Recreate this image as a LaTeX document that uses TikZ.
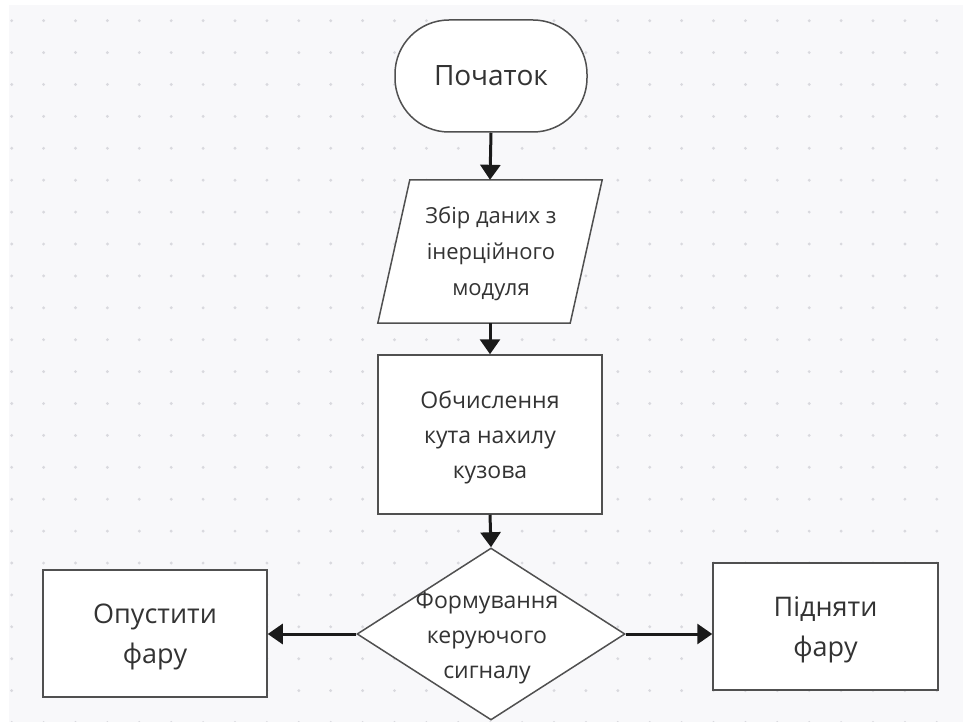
\documentclass[tikz,border=0pt]{standalone}
\usepackage{fontspec}
\setmainfont{Open Sans}
\usetikzlibrary{arrows.meta,shapes.geometric,calc}
\definecolor{bgc}{HTML}{F8F8FA}
\definecolor{dotc}{HTML}{D9D9DE}
\definecolor{edgec}{HTML}{505050}
\definecolor{txtc}{HTML}{333333}
\definecolor{arrc}{HTML}{1A1A1A}
\begin{document}
\begin{tikzpicture}[x=1pt,y=-1pt,
  shapebox/.style={draw=edgec,line width=1.5pt,fill=white},
  txt/.style={text=txtc,align=center,inner sep=0pt},
  flow/.style={draw=arrc,line width=3pt,-{Triangle[length=15pt,width=20pt]}}]
\useasboundingbox (0,0) rectangle (963,722);
\fill[white] (0,0) rectangle (963,722);
\fill[bgc] (9,5) rectangle (963,722);
\foreach \i in {0,...,30}{
  \foreach \j in {0,...,22}{
    \fill[dotc] ({11.7+31.9*\i},{20.7+31.9*\j}) circle (1.6pt);
  }
}
% start
\node[shapebox,rounded corners=54pt,minimum width=192pt,minimum height=112pt,txt,
  font=\fontsize{28}{34}\selectfont] (start) at (491,76) {Початок};
% input parallelogram
\node[minimum width=224pt,minimum height=143pt,inner sep=0pt] (in) at (490,251.5) {};
\fill[white] ($(in.north west)+(32,0)$) -- (in.north east) -- ($(in.south east)+(-32,0)$) -- (in.south west) -- cycle;
\draw[draw=edgec,line width=1.5pt,line join=miter] ($(in.north west)+(32,0)$) -- (in.north east) -- ($(in.south east)+(-32,0)$) -- (in.south west) -- cycle;
\node[txt,font=\fontsize{22}{36}\selectfont] (intext) at (491,254) {Збір даних з\\інерційного\\модуля};
% calc
\node[shapebox,minimum width=224pt,minimum height=159pt] (calc) at (490,434.5) {};
\node[txt,font=\fontsize{23}{35}\selectfont] (calctext) at (490,437) {Обчислення\\кута нахилу\\кузова};
% decision
\node[shapebox,diamond,minimum width=268pt,minimum height=172pt,inner sep=0pt] (dec) at (491,634) {};
\node[txt,font=\fontsize{23}{35}\selectfont] (dectext) at (487,638) {Формування\\керуючого\\сигналу};
% outcomes
\node[shapebox,minimum width=224pt,minimum height=127pt] (down) at (155,633.5) {};
\node[txt,font=\fontsize{27}{40}\selectfont] (downtext) at (155,637) {Опустити\\фару};
\node[shapebox,minimum width=225pt,minimum height=127pt] (up) at (825.5,626.5) {};
\node[txt,font=\fontsize{27}{40}\selectfont] (uptext) at (825.5,630) {Підняти\\фару};
% arrows
\draw[flow] (start.south) -- (in.north);
\draw[flow] (in.south) -- (calc.north);
\draw[flow] (calc.south) -- (dec.north);
\draw[flow] (dec.west) -- (dec.west -| down.east);
\draw[flow] (dec.east) -- (dec.east -| up.west);
\end{tikzpicture}
\end{document}
